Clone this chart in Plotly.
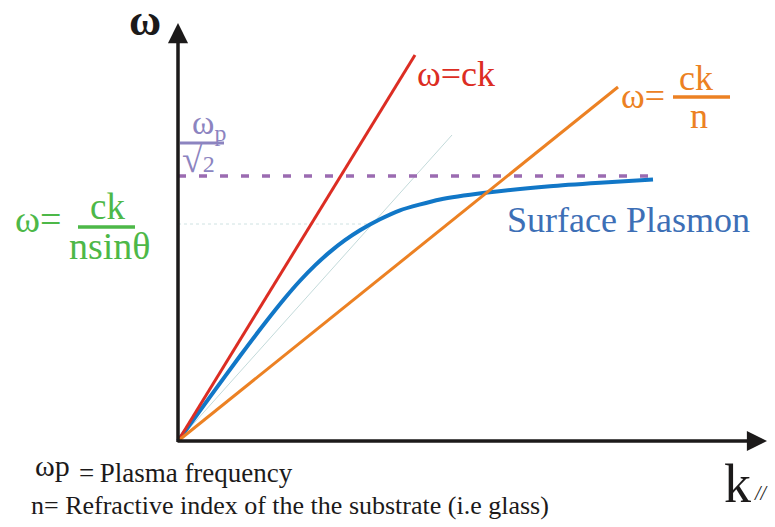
import plotly.graph_objects as go

# ---------------- data (arbitrary units: k along x, omega along y) ----------------
k_light = [0.0, 5.925]          # omega = ck (light line in air)
w_light = [0.0, 9.65]
k_glass = [0.0, 11.0]           # omega = ck/n (light line in glass)
w_glass = [0.0, 8.85]
k_prism = [0.0, 6.85]           # omega = ck/(n sin theta)
w_prism = [0.0, 7.65]
k_sp = [0.0, 0.8, 1.55, 2.175, 2.675, 3.05, 3.425, 3.8, 4.175, 4.55, 5.05, 5.55,
        6.55, 7.675, 9.3, 10.55, 11.875]
w_sp = [0.0, 1.105, 2.125, 2.95, 3.575, 4.006, 4.39, 4.728, 5.02, 5.268, 5.543, 5.768,
        6.038, 6.205, 6.368, 6.455, 6.535]
k_limit = [0.0, 11.75]          # omega_p / sqrt(2)
w_limit = [6.625, 6.625]
k_cross = [0.0, 4.8]            # coupling point
w_cross = [5.425, 5.425]
k_axis_end = 14.725
w_axis_end = 10.45

# ---------------- layout helpers ----------------
W, H = 775, 527
OX, OY, S = 178, 441, 40.0


def px(x):
    return x / W


def py(y):
    return 1 - y / H


SERIF = "Liberation Serif, Times New Roman, serif"
RED = "#dc2d23"
ORANGE = "#ec8123"
BLUE = "#1177c7"
BLUE_T = "#3d6fb6"
PURPLE = "#9b6bb1"
PURPLE_T = "#8c84c0"
GREEN = "#4db848"
BLACK = "#1c1a1a"

fig = go.Figure()
fig.add_trace(go.Scatter(x=k_prism, y=w_prism, mode="lines",
                         line=dict(color="#c3dada", width=1)))
fig.add_trace(go.Scatter(x=k_cross, y=w_cross, mode="lines",
                         line=dict(color="#cfe2e2", width=1, dash="dot")))
fig.add_trace(go.Scatter(x=k_limit, y=w_limit, mode="lines",
                         line=dict(color=PURPLE, width=3.5, dash="8px,13px")))
fig.add_trace(go.Scatter(x=k_sp, y=w_sp, mode="lines",
                         line=dict(color=BLUE, width=4, shape="spline", smoothing=0.6)))
fig.add_trace(go.Scatter(x=k_light, y=w_light, mode="lines",
                         line=dict(color=RED, width=3)))
fig.add_trace(go.Scatter(x=k_glass, y=w_glass, mode="lines",
                         line=dict(color=ORANGE, width=3)))

ann = []
# axes arrows
ann.append(dict(x=0, y=w_axis_end, ax=0, ay=-0.06, xref="x", yref="y", axref="x", ayref="y",
                text="", showarrow=True, arrowhead=2, arrowsize=1.15, arrowwidth=3.5,
                arrowcolor=BLACK, standoff=0))
ann.append(dict(x=k_axis_end, y=0, ax=-0.05, ay=0, xref="x", yref="y", axref="x", ayref="y",
                text="", showarrow=True, arrowhead=2, arrowsize=1.15, arrowwidth=3.5,
                arrowcolor=BLACK, standoff=0))


def txt(t, x, y, size, color, xa="left", ya="middle"):
    ann.append(dict(text=t, x=px(x), y=py(y), xref="paper", yref="paper", showarrow=False,
                    xanchor=xa, yanchor=ya, font=dict(family=SERIF, size=size, color=color)))


txt("<b>ω</b>", 145, 20, 44, BLACK, xa="center")
txt("k", 722, 484, 54, BLACK)
txt("<i>//</i>", 752, 493, 20, BLACK)
txt("ωp", 33, 465, 30, BLACK)
txt("=\u2009Plasma frequency", 77, 473, 27, BLACK)
txt("n= Refractive index of the the substrate (i.e glass)", 29, 505, 26, BLACK)

txt("ω=ck", 415, 74, 36, RED)

txt("ω=", 619, 96, 36, ORANGE)
txt("ck", 696, 78, 36, ORANGE, xa="center")
txt("n", 699, 116, 36, ORANGE, xa="center")

txt("Surface Plasmon", 505, 220, 36, BLUE_T)

txt("ω=", 13, 219, 38, GREEN)
txt("ck", 107, 206, 37, GREEN, xa="center")
txt("nsinθ", 110, 246, 38, GREEN, xa="center")

txt("ω<sub>p</sub>", 209, 125, 34, PURPLE_T, xa="center")
txt("√<span style='font-size:24px'>2</span>", 198, 159, 38, PURPLE_T, xa="center")

shapes = [
    dict(type="line", xref="paper", yref="paper", x0=px(673), x1=px(730), y0=py(97), y1=py(97),
         line=dict(color=ORANGE, width=3.5)),
    dict(type="line", xref="paper", yref="paper", x0=px(78), x1=px(135), y0=py(227), y1=py(227),
         line=dict(color=GREEN, width=3.5)),
    dict(type="line", xref="paper", yref="paper", x0=px(180), x1=px(224), y0=py(143), y1=py(143),
         line=dict(color=PURPLE_T, width=3)),
]

fig.update_layout(
    width=W, height=H, showlegend=False,
    paper_bgcolor="white", plot_bgcolor="white",
    margin=dict(l=0, r=0, t=0, b=0, pad=0),
    xaxis=dict(range=[-OX / S, (W - OX) / S], visible=False, fixedrange=True),
    yaxis=dict(range=[-(H - OY) / S, OY / S], visible=False, fixedrange=True),
    annotations=ann, shapes=shapes,
)

fig.write_html("out.html", config={"displayModeBar": False},
               post_script="document.body.style.margin='0';document.body.style.overflow='hidden';")
